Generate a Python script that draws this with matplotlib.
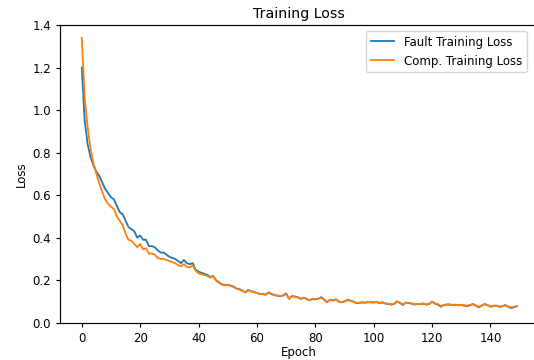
import matplotlib
matplotlib.use("Agg")
import matplotlib.pyplot as plt

fault_loss = [
    1.20, 0.95, 0.84, 0.78, 0.74, 0.71, 0.69, 0.66, 0.63, 0.61,
    0.59, 0.58, 0.55, 0.52, 0.51, 0.48, 0.45, 0.44, 0.43, 0.40,
    0.41, 0.39, 0.39, 0.36, 0.36, 0.355, 0.34, 0.33, 0.33, 0.32,
    0.31, 0.305, 0.30, 0.29, 0.28, 0.295, 0.28, 0.275, 0.28, 0.25,
    0.24, 0.235, 0.23, 0.225, 0.215, 0.22, 0.20, 0.19, 0.18, 0.178,
    0.178, 0.175, 0.17, 0.16, 0.158, 0.15, 0.143, 0.154, 0.148, 0.145,
    0.14, 0.135, 0.135, 0.132, 0.143, 0.135, 0.13, 0.127, 0.125, 0.128,
    0.138, 0.112, 0.125, 0.123, 0.12, 0.112, 0.118, 0.112, 0.105, 0.112,
    0.11, 0.112, 0.12, 0.11, 0.096, 0.107, 0.105, 0.11, 0.10, 0.096,
    0.10, 0.107, 0.104, 0.10, 0.092, 0.093, 0.095, 0.094, 0.096, 0.096,
    0.095, 0.097, 0.092, 0.096, 0.09, 0.088, 0.085, 0.088, 0.10, 0.093,
    0.083, 0.095, 0.092, 0.09, 0.085, 0.088, 0.087, 0.09, 0.085, 0.088,
    0.099, 0.09, 0.085, 0.075, 0.082, 0.085, 0.085, 0.083, 0.084, 0.082,
    0.083, 0.08, 0.078, 0.082, 0.088, 0.08, 0.072, 0.08, 0.088, 0.082,
    0.075, 0.078, 0.08, 0.075, 0.076, 0.083, 0.075, 0.069, 0.072, 0.078,
]

comp_loss = [
    1.34, 1.06, 0.92, 0.82, 0.75, 0.70, 0.655, 0.615, 0.58, 0.56,
    0.545, 0.535, 0.50, 0.48, 0.46, 0.42, 0.39, 0.385, 0.37, 0.355,
    0.37, 0.345, 0.35, 0.325, 0.325, 0.32, 0.305, 0.30, 0.30, 0.295,
    0.29, 0.285, 0.28, 0.27, 0.265, 0.275, 0.262, 0.26, 0.27, 0.245,
    0.232, 0.228, 0.225, 0.22, 0.212, 0.218, 0.198, 0.188, 0.18, 0.176,
    0.177, 0.173, 0.168, 0.16, 0.156, 0.152, 0.142, 0.152, 0.147, 0.143,
    0.14, 0.136, 0.134, 0.131, 0.141, 0.134, 0.13, 0.128, 0.126, 0.127,
    0.136, 0.114, 0.124, 0.122, 0.118, 0.113, 0.117, 0.113, 0.106, 0.111,
    0.11, 0.113, 0.119, 0.108, 0.098, 0.106, 0.104, 0.108, 0.10, 0.097,
    0.10, 0.106, 0.103, 0.10, 0.093, 0.094, 0.096, 0.095, 0.097, 0.097,
    0.096, 0.098, 0.093, 0.095, 0.091, 0.089, 0.087, 0.089, 0.10, 0.094,
    0.086, 0.094, 0.093, 0.091, 0.087, 0.088, 0.088, 0.09, 0.086, 0.089,
    0.098, 0.091, 0.087, 0.078, 0.083, 0.086, 0.086, 0.084, 0.085, 0.083,
    0.084, 0.082, 0.08, 0.083, 0.087, 0.081, 0.075, 0.081, 0.087, 0.083,
    0.077, 0.079, 0.081, 0.077, 0.078, 0.082, 0.077, 0.072, 0.074, 0.078,
]

epochs = list(range(len(fault_loss)))

plt.rcParams["font.size"] = 8.5
plt.rcParams["axes.linewidth"] = 0.85
plt.rcParams["xtick.major.width"] = 0.85
plt.rcParams["ytick.major.width"] = 0.85
plt.rcParams["xtick.major.size"] = 3
plt.rcParams["ytick.major.size"] = 3

fig = plt.figure(figsize=(5.34, 3.6), dpi=100)
ax = fig.add_axes([0.1124, 0.1036, 0.896, 0.827])
ax.plot(epochs, fault_loss, color="#1f77b4", lw=1.3, label="Fault Training Loss")
ax.plot(epochs, comp_loss, color="#ff7f0e", lw=1.3, label="Comp. Training Loss")
ax.set_ylim(0, 1.4)
ax.set_title("Training Loss", pad=5)
ax.set_xlabel("Epoch", labelpad=1)
ax.set_ylabel("Loss", labelpad=3)
ax.legend(loc="upper right", bbox_to_anchor=(0.0, 0.0, 0.988, 1.0))
fig.savefig("out.png", dpi=100)
